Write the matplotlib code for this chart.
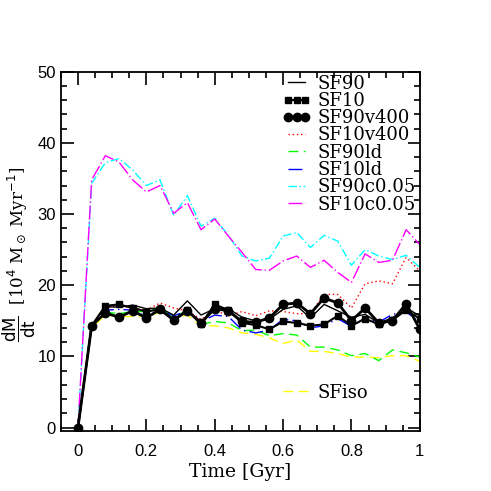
import numpy as np
import matplotlib
matplotlib.use('Agg')
import matplotlib.pyplot as plt
from matplotlib.lines import Line2D
from matplotlib.ticker import MultipleLocator

# time axis, one output every 0.04 Gyr
time = [0.0, 0.04, 0.08, 0.12, 0.16, 0.2, 0.24, 0.28, 0.32, 0.36, 0.4, 0.44, 0.48,
        0.52, 0.56, 0.6, 0.64, 0.68, 0.72, 0.76, 0.8, 0.84, 0.88, 0.92, 0.96, 1.0]

sf90 = [0, 14.3, 17.0, 16.9, 17.2, 16.7, 16.8, 15.8, 17.8, 15.8, 16.7, 16.7, 15.5,
        15.0, 15.2, 16.6, 17.1, 15.4, 17.3, 16.4, 15.5, 15.9, 14.7, 15.4, 16.8, 15.7]
sf10 = [0, 14.3, 17.1, 17.3, 16.8, 16.3, 16.6, 15.1, 16.5, 14.5, 17.3, 16.5, 14.7,
        14.4, 13.8, 14.9, 14.7, 14.3, 14.5, 15.7, 14.3, 15.3, 14.5, 15.1, 16.5, 15.3]
sf90v400 = [0, 14.3, 16.1, 15.5, 16.4, 15.4, 16.6, 15.1, 16.4, 14.7, 16.7, 16.4, 14.9,
            14.8, 15.4, 17.3, 17.5, 16.0, 18.2, 17.5, 15.0, 16.8, 14.7, 15.0, 17.4, 13.8]
sf10v400 = [0, 14.5, 16.8, 17.1, 16.8, 16.5, 17.5, 16.8, 16.4, 15.2, 16.5, 15.7, 16.3,
            15.7, 16.4, 16.3, 16.0, 16.0, 18.7, 18.7, 16.8, 20.2, 20.6, 20.2, 23.9, 22.0]
sf90ld = [0, 14.3, 16.2, 16.0, 16.3, 16.3, 16.8, 15.5, 16.5, 14.5, 14.9, 14.7, 13.6,
          13.7, 12.9, 13.2, 13.0, 11.3, 11.3, 10.9, 10.1, 10.4, 9.4, 10.9, 10.5, 9.9]
sf10ld = [0, 14.3, 16.5, 16.6, 16.5, 15.6, 16.5, 15.7, 16.4, 14.9, 15.8, 15.6, 13.7,
          13.3, 13.7, 15.2, 15.0, 14.0, 14.3, 15.3, 14.2, 15.4, 14.8, 15.9, 16.3, 14.7]
sf90c005 = [0, 34.3, 37.2, 37.8, 36.2, 34.0, 34.8, 29.8, 32.6, 28.3, 29.4, 27.0, 24.1,
            23.4, 23.8, 26.9, 27.4, 25.3, 27.0, 26.2, 22.8, 25.0, 24.1, 23.6, 24.2, 22.5]
sf10c005 = [0, 34.8, 38.2, 37.3, 34.8, 33.1, 34.0, 30.1, 31.6, 27.8, 29.3, 26.9, 24.6,
            22.2, 22.1, 23.4, 24.1, 22.5, 23.5, 21.8, 20.4, 24.4, 23.2, 23.5, 27.8, 25.7]
sfiso = [0, 14.0, 15.8, 15.6, 15.6, 15.6, 16.2, 15.4, 15.8, 14.3, 14.3, 14.0, 13.3,
         13.1, 12.6, 11.8, 12.3, 10.7, 10.7, 10.4, 9.9, 9.9, 9.8, 10.1, 10.1, 9.3]

labels = ['SF90', 'SF10', 'SF90v400', 'SF10v400', 'SF90ld', 'SF10ld',
          'SF90c0.05', 'SF10c0.05']

fig = plt.figure(figsize=(4.91, 4.91), dpi=100)
ax = fig.add_axes([0.124, 0.122, 0.731, 0.732])

lw = 1.0
styles = [
    dict(color='black', lw=lw),
    dict(color='black', lw=1.5, marker='s', ms=4),
    dict(color='black', lw=2.0, marker='o', ms=6),
    dict(color='red', lw=lw, ls=(0, (1, 2))),
    dict(color='#00ff00', lw=lw, dashes=(7, 4)),
    dict(color='#0000ff', lw=lw, dashes=(10, 3, 1, 3)),
    dict(color='cyan', lw=lw, dashes=(6, 2, 1, 2)),
    dict(color='magenta', lw=lw, dashes=(10, 2, 1, 2)),
]
iso_style = dict(color='#ffff00', lw=lw, dashes=(7, 4))

ax.plot(time, sfiso, **iso_style)
series = [sf90, sf10, sf90v400, sf10v400, sf90ld, sf10ld, sf90c005, sf10c005]
order = [4, 5, 3, 6, 7, 0, 1, 2]
for i in order:
    ax.plot(time, series[i], **styles[i])

ax.set_xlim(-0.05, 1.0)
ax.set_ylim(-0.5, 50)
ax.xaxis.set_major_locator(MultipleLocator(0.2))
ax.xaxis.set_minor_locator(MultipleLocator(0.05))
ax.yaxis.set_major_locator(MultipleLocator(10))
ax.yaxis.set_minor_locator(MultipleLocator(2))
ax.set_xticks([0, 0.2, 0.4, 0.6, 0.8, 1.0], ['0', '0.2', '0.4', '0.6', '0.8', '1'])
ax.tick_params(which='both', direction='in', top=True, right=True, width=1.2,
               labelsize=12)
ax.tick_params(axis='x', pad=9)
ax.tick_params(axis='y', pad=3.5)
ax.tick_params(which='major', length=9)
ax.tick_params(which='minor', length=4)
for lab in ax.get_xticklabels() + ax.get_yticklabels():
    lab.set_family('Liberation Sans')
for s in ax.spines.values():
    s.set_linewidth(1.3)

ax.set_xlabel('Time [Gyr]', family='DejaVu Serif', fontsize=13.5, labelpad=3)
ax.set_ylabel(r'$\dfrac{\rm dM}{\rm dt}$  [10$^4$ M$_\odot$ Myr$^{-1}$]',
              family='DejaVu Serif', fontsize=12)
ax.yaxis.set_label_coords(-0.065, 0.49)

handles = [Line2D([], [], **st) for st in styles]
prop = {'family': 'DejaVu Serif', 'size': 13}
leg = ax.legend(handles, labels, loc='upper left', bbox_to_anchor=(0.618, 0.992),
                frameon=False, prop=prop, labelspacing=-0.04, handlelength=1.55,
                handletextpad=0.4, borderpad=0, borderaxespad=0, numpoints=3)
ax.add_artist(leg)
ax.legend([Line2D([], [], **iso_style)], ['SFiso'],
          loc='upper left', bbox_to_anchor=(0.618, 0.132), frameon=False, prop=prop,
          handlelength=1.55, handletextpad=0.4, borderpad=0, borderaxespad=0)

fig.savefig('out.png', dpi=100)
